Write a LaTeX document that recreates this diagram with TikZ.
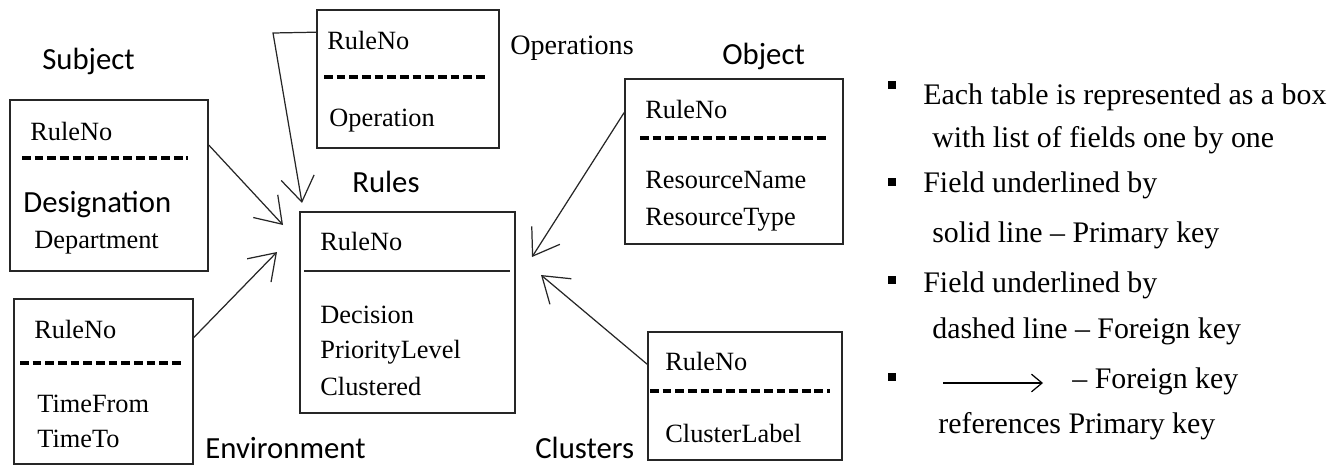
\documentclass[tikz,border=0pt]{standalone}
\usepackage{fontspec}
\setmainfont{Liberation Serif}
\newfontfamily\labelfont{Carlito}
\usetikzlibrary{arrows.meta}
\begin{document}
\begin{tikzpicture}[x=0.02cm,y=-0.02cm]
        \useasboundingbox (0,0) rectangle (1341,466);
        \begin{scope}
            \tikzset{tbox/.style = {
                draw=black!85,
                line width=1pt,
                inner sep=0pt } }
            \tikzset{fld/.style = {
                anchor=base west,
                inner sep=0pt,
                font=\fontsize{15}{17}\selectfont } }
            \tikzset{ttl/.style = {
                anchor=base west,
                inner sep=0pt,
                font=\labelfont\fontsize{17.5}{20}\selectfont } }
            \tikzset{fkline/.style = {
                draw=black,
                line width=2.2pt,
                dash pattern=on 5pt off 2.2pt } }
            \tikzset{pkline/.style = {
                draw=black!85,
                line width=1.1pt} }
            \tikzset{fkedge/.style = {
                draw=black!85,
                line width=0.7pt,
                -{Straight Barb[length=14pt,width=19pt]} } }
            % tables
            \node[tbox, minimum width=3.96cm, minimum height=3.42cm] (subj) at (109,185.5) {};
            \node[tbox, minimum width=3.58cm, minimum height=3.30cm] (env) at (103.5,381.5) {};
            \node[tbox, minimum width=3.64cm, minimum height=2.76cm] (ops) at (408,79) {};
            \node[tbox, minimum width=4.30cm, minimum height=4.02cm] (rules) at (407.5,312.5) {};
            \node[tbox, minimum width=4.36cm, minimum height=3.30cm] (obj) at (734,161.5) {};
            \node[tbox, minimum width=3.88cm, minimum height=2.56cm] (clu) at (745,396) {};
            % table names
            \node[ttl] (subjname) at (42,70) {Subject};
            \node[fld, font=\fontsize{16}{18}\selectfont] (opsname) at (510,55) {Operations};
            \node[ttl] (rulesname) at (352,192) {Rules};
            \node[ttl] (objname) at (722,65) {Object};
            \node[ttl] (envname) at (205,458) {Environment};
            \node[ttl] (cluname) at (535,458) {Clusters};
            % fields
            \node[fld] (subjkey) at (30,140) {RuleNo};
            \node[ttl] (subjf1) at (23,212) {Designation};
            \node[fld] (subjf2) at (34,248) {Department};
            \node[fld] (envkey) at (34,338) {RuleNo};
            \node[fld] (envf1) at (37,412) {TimeFrom};
            \node[fld] (envf2) at (37,447) {TimeTo};
            \node[fld] (opskey) at (327,50) {RuleNo};
            \node[fld] (opsf1) at (329,127) {Operation};
            \node[fld] (ruleskey) at (320,250) {RuleNo};
            \node[fld] (rulesf1) at (320,323) {Decision};
            \node[fld] (rulesf2) at (320,358) {PriorityLevel};
            \node[fld] (rulesf3) at (320,395) {Clustered};
            \node[fld] (objkey) at (645,118) {RuleNo};
            \node[fld] (objf1) at (645,188) {ResourceName};
            \node[fld] (objf2) at (645,225) {ResourceType};
            \node[fld] (clukey) at (665,370) {RuleNo};
            \node[fld] (cluf1) at (665,442) {ClusterLabel};
            % key underlines
            \path[fkline] (22,158) -- (188,158);
            \path[fkline] (20,363) -- (182,363);
            \path[fkline] (324,77) -- (487,77);
            \path[pkline] (304,271) -- (510,271);
            \path[fkline] (640,138) -- (828,138);
            \path[fkline] (650,391) -- (830,391);
            % references
            \coordinate (opsbend) at (273,33);
            \coordinate (opsin) at (302,203);
            \coordinate (subjin) at (283,225);
            \coordinate (envin) at (277,252);
            \coordinate (objin) at (532,257);
            \coordinate (cluin) at (541,275);
            \path[fkedge] (ops.153) -- (opsbend) -- (opsin);
            \path[fkedge] (subj.22) -- (subjin);
            \path[fkedge] (env.26) -- (envin);
            \path[fkedge] (obj.156) -- (objin);
            \path[fkedge] (clu.162) -- (cluin);
        \end{scope}
        \begin{scope}
            \tikzset{bullet/.style = {
                fill=black,
                inner sep=0pt,
                minimum size=4.5pt } }
            \tikzset{note/.style = {
                anchor=base west,
                inner sep=0pt,
                font=\fontsize{17}{20}\selectfont } }
            \foreach \y [count=\i] in {85,182,280,377}{
                \node[bullet] (b\i) at (892,\y) {};
            }
            \node[note] (n1) at (923,105) {Each table is represented as a box};
            \node[note] (n2) at (932,147) {with list of fields one by one};
            \node[note] (n3) at (923,192) {Field underlined by};
            \node[note] (n4) at (932,242) {solid line -- Primary key};
            \node[note] (n5) at (923,292) {Field underlined by};
            \node[note] (n6) at (932,338) {dashed line -- Foreign key};
            \node[note] (n7) at (1072,388) {-- Foreign key};
            \node[note] (n8) at (938,433) {references Primary key};
            \coordinate (keyfrom) at (943,383);
            \coordinate (keyto) at (1043,383);
            \draw[line width=0.7pt, -{Straight Barb[length=6pt,width=10pt]}] (keyfrom) -- (keyto);
        \end{scope}
    \end{tikzpicture}
\end{document}
